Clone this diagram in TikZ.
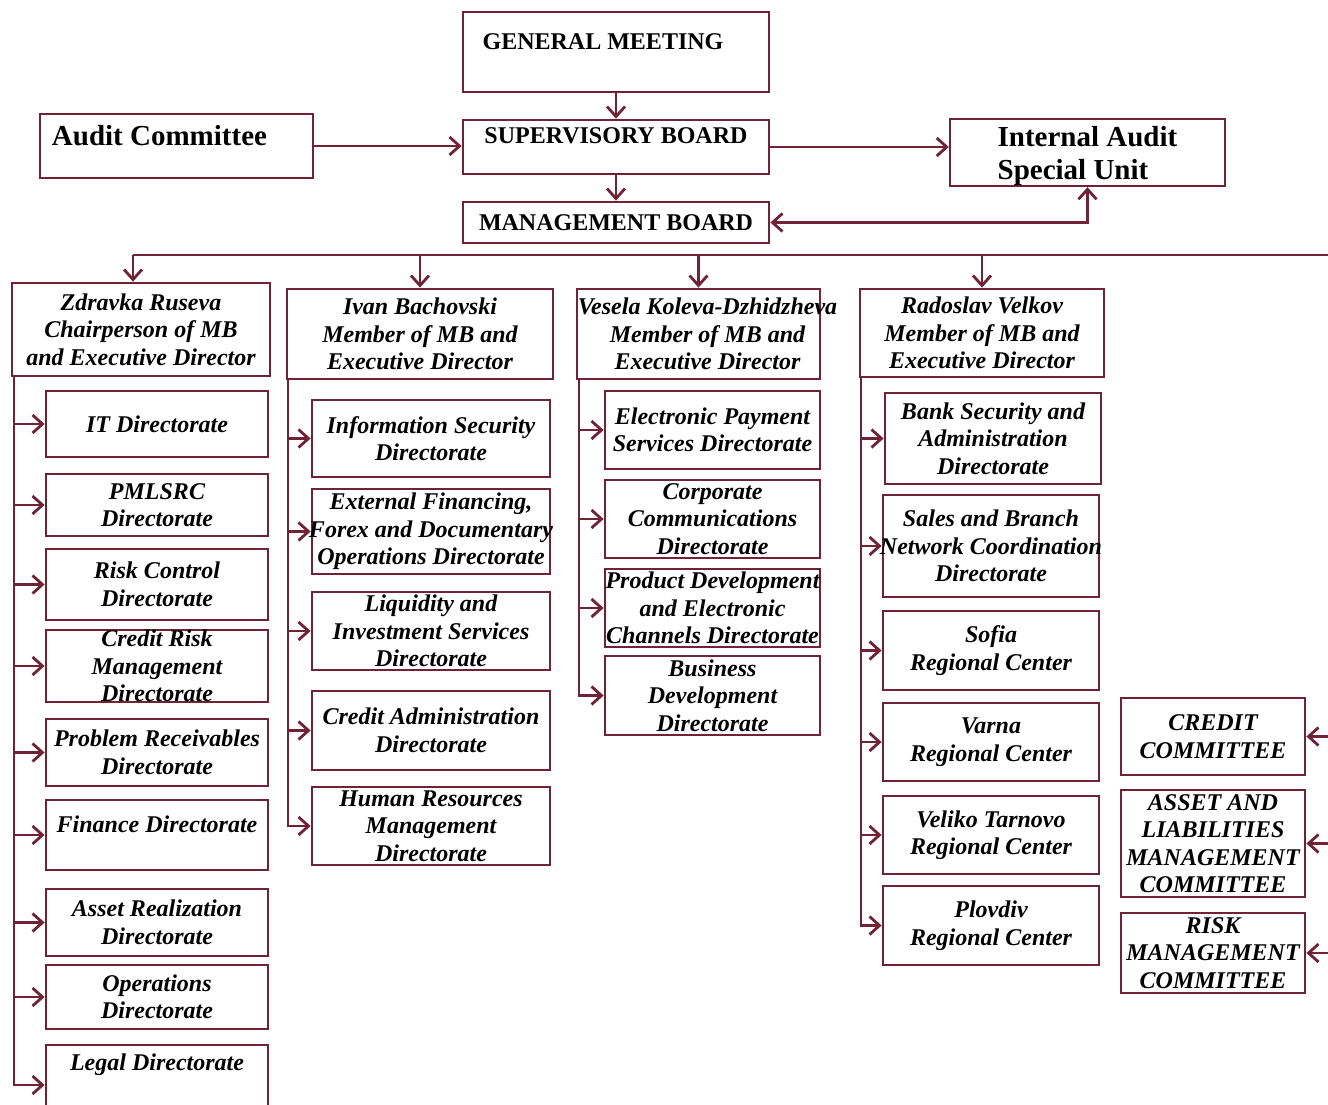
\documentclass[tikz,border=0pt]{standalone}
\usepackage{fontspec}
\setmainfont{Liberation Serif}
\usetikzlibrary{arrows.meta,positioning}
\definecolor{orgline}{RGB}{112,34,54}
\newcommand{\wideline}[1]{\makebox[0pt]{#1}}

\tikzset{
  unitbox/.style={draw=orgline, line width=2.8pt, inner sep=0pt, align=center,
    font=\fontsize{24}{27.5}\selectfont\bfseries\itshape},
  topbox/.style={draw=orgline, line width=2.8pt, inner sep=0pt, align=center,
    font=\fontsize{24}{27}\selectfont\bfseries},
  bigbox/.style={draw=orgline, line width=2.4pt, inner sep=0pt, align=left,
    font=\fontsize{29}{33}\selectfont\bfseries},
  colA/.style={unitbox, minimum width=222pt},
  colB/.style={unitbox, minimum width=238pt},
  colC/.style={unitbox, minimum width=215pt},
  colD/.style={unitbox, minimum width=216pt},
  cmte/.style={unitbox, minimum width=184pt},
  link/.style={draw=orgline, line width=2.8pt, -{Straight Barb[length=10pt,width=18pt]}},
}

\begin{document}
\begin{tikzpicture}[x=1pt,y=-1pt]
  \useasboundingbox (0,0) rectangle (1328,1105);
  \fill[white] (0,0) rectangle (1328,1105);

  % governing bodies
  \node[topbox, minimum width=306pt, minimum height=80pt, text depth=20pt] (gm) at (616,52) {GENERAL MEETING\rule{26pt}{0pt}};
  \node[topbox, minimum width=306pt, minimum height=54pt, text depth=22pt] (sb) at (616,147) {SUPERVISORY BOARD};
  \node[topbox, minimum width=306pt, minimum height=41pt] (mb) at (616,222.5) {MANAGEMENT BOARD};
  \node[bigbox, minimum width=273pt, minimum height=64pt, text depth=22pt] (ac) at (176.5,146) {Audit Committee\rule{34pt}{0pt}};
  \node[bigbox, minimum width=275pt, minimum height=67pt, text depth=-4pt] (ia) at (1087.5,152.5) {Internal Audit\\Special Unit};

  \draw[link] (gm) -- (sb);
  \draw[link] (sb) -- (mb);
  \draw[link] (ac.east) -- (ac.east -| sb.west);
  \draw[link] (sb.east) -- (sb.east -| ia.west);
  \draw[link, {Straight Barb[length=10pt,width=18pt]}-{Straight Barb[length=10pt,width=18pt]}] (mb.east) -| (ia.south);

  % executive directors
  \node[unitbox, minimum width=258pt, minimum height=93pt] (zr) at (141,329.5) {Zdravka Ruseva\\Chairperson of MB\\and Executive Director};
  \node[unitbox, minimum width=266pt, minimum height=90pt] (ib) at (420,334) {Ivan Bachovski\\Member of MB and\\Executive Director};
  \node[unitbox, minimum width=243pt, minimum height=90pt] (vk) at (698.5,334) {\wideline{\hspace*{18pt}Vesela Koleva-Dzhidzheva}\\\hspace*{18pt}Member of MB and\\\hspace*{18pt}Executive Director};
  \node[unitbox, minimum width=244pt, minimum height=88pt] (rv) at (982,333) {Radoslav Velkov\\Member of MB and\\Executive Director};

  \coordinate (busW) at (133,255);
  \coordinate (busE) at (1328,255);
  \draw[link, -] (busW) -- (busE);
  \draw[link] (busW) -- (busW |- zr.north);
  \draw[link] (ib.north |- busW) -- (ib.north);
  \draw[link] (vk.north |- busW) -- (vk.north);
  \draw[link] (rv.north |- busW) -- (rv.north);

  % directorates of Zdravka Ruseva
  \node[colA, minimum height=66pt] (itd) at (157,424) {IT Directorate};
  \node[colA, minimum height=62pt] (pml) at (157,505) {PMLSRC\\Directorate};
  \node[colA, minimum height=71pt] (rcd) at (157,584.5) {Risk Control\\Directorate};
  \node[colA, minimum height=70pt] (crm) at (157,666) {Credit Risk\\Management\\Directorate};
  \node[colA, minimum height=67pt] (prd) at (157,752.5) {Problem Receivables\\Directorate};
  \node[colA, minimum height=70pt, text depth=22pt] (fin) at (157,835) {Finance Directorate};
  \node[colA, minimum height=67pt] (ard) at (157,922.5) {Asset Realization\\Directorate};
  \node[colA, minimum height=64pt] (opd) at (157,997) {Operations\\Directorate};
  \node[colA, minimum height=80pt, text depth=46pt] (lgd) at (157,1085) {Legal Directorate};

  \coordinate (spA) at (14,376);
  \draw[link] (spA) |- (itd.west);
  \draw[link] (spA) |- (pml.west);
  \draw[link] (spA) |- (rcd.west);
  \draw[link] (spA) |- (crm.west);
  \draw[link] (spA) |- (prd.west);
  \draw[link] (spA) |- (fin.west);
  \draw[link] (spA) |- (ard.west);
  \draw[link] (spA) |- (opd.west);
  \draw[link] (spA) |- (lgd.west);

  % directorates of Ivan Bachovski
  \node[colB, minimum height=77pt] (isd) at (431,438.5) {Information Security\\Directorate};
  \node[colB, minimum height=85pt] (efd) at (431,531.5) {External Financing,\\\wideline{Forex and Documentary}\\Operations Directorate};
  \node[colB, minimum height=78pt] (lid) at (431,631) {Liquidity and\\Investment Services\\Directorate};
  \node[colB, minimum height=79pt] (cad) at (431,730.5) {Credit Administration\\Directorate};
  \node[colB, minimum height=78pt] (hrd) at (431,826) {Human Resources\\Management\\Directorate};

  \coordinate (spB) at (288,379);
  \draw[link] (spB) |- (isd.west);
  \draw[link] (spB) |- (efd.west);
  \draw[link] (spB) |- (lid.west);
  \draw[link] (spB) |- (cad.west);
  \draw[link] (spB) |- (hrd.west);

  % directorates of Vesela Koleva-Dzhidzheva
  \node[colC, minimum height=78pt] (eps) at (712.5,430) {Electronic Payment\\Services Directorate};
  \node[colC, minimum height=78pt] (ccd) at (712.5,519) {Corporate\\Communications\\Directorate};
  \node[colC, minimum height=78pt] (pdc) at (712.5,608) {\wideline{Product Development}\\and Electronic\\\wideline{Channels Directorate}};
  \node[colC, minimum height=79pt] (bdd) at (712.5,695.5) {Business\\Development\\Directorate};

  \coordinate (spC) at (579,379);
  \draw[link] (spC) |- (eps.west);
  \draw[link] (spC) |- (ccd.west);
  \draw[link] (spC) |- (pdc.west);
  \draw[link] (spC) |- (bdd.west);

  % directorates and centers of Radoslav Velkov
  \node[colD, minimum height=91pt] (bsa) at (993,438.5) {Bank Security and\\Administration\\Directorate};
  \node[colD, minimum height=102pt] (sbn) at (991,546) {Sales and Branch\\\wideline{Network Coordination}\\Directorate};
  \node[colD, minimum height=79pt] (sof) at (991,650.5) {Sofia\\Regional Center};
  \node[colD, minimum height=78pt] (var) at (991,742) {Varna\\Regional Center};
  \node[colD, minimum height=78pt] (vtr) at (991,835) {Veliko Tarnovo\\Regional Center};
  \node[colD, minimum height=79pt] (plv) at (991,925.5) {Plovdiv\\Regional Center};

  \coordinate (spD) at (861,377);
  \draw[link] (spD) |- (bsa.west);
  \draw[link] (spD) |- (sbn.west);
  \draw[link] (spD) |- (sof.west);
  \draw[link] (spD) |- (var.west);
  \draw[link] (spD) |- (vtr.west);
  \draw[link] (spD) |- (plv.west);

  % committees
  \node[cmte, minimum height=77pt] (crc) at (1213,736.5) {CREDIT\\COMMITTEE};
  \node[cmte, minimum height=107pt] (alc) at (1213,843.5) {ASSET AND\\LIABILITIES\\MANAGEMENT\\COMMITTEE};
  \node[cmte, minimum height=80pt] (rmc) at (1213,953) {RISK\\MANAGEMENT\\COMMITTEE};

  \draw[link] (busE |- crc.east) -- (crc.east);
  \draw[link] (busE |- alc.east) -- (alc.east);
  \draw[link] (busE |- rmc.east) -- (rmc.east);
\end{tikzpicture}
\end{document}
